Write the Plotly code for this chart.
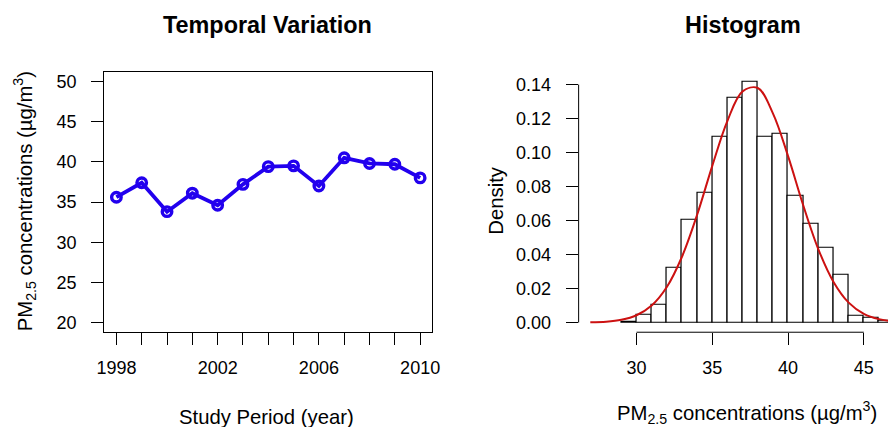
import plotly.graph_objects as go

# ---------------- data ----------------
years = [1998, 1999, 2000, 2001, 2002, 2003, 2004, 2005, 2006, 2007, 2008, 2009, 2010]
pm25_annual = [35.6, 37.4, 33.8, 36.1, 34.6, 37.2, 39.4, 39.5, 37.0, 40.5, 39.8, 39.7, 38.0]
year_tick_labels = ["1998", "", "", "", "2002", "", "", "", "2006", "", "", "", "2010"]
left_y_ticks = [20, 25, 30, 35, 40, 45, 50]

hist_bin_left = [29, 30, 31, 32, 33, 34, 35, 36, 37, 38, 39, 40, 41, 42, 43, 44, 45, 46]
hist_density = [0.0005, 0.0045, 0.0104, 0.0323, 0.0606, 0.0761, 0.1091, 0.1324, 0.1418,
                0.1091, 0.1113, 0.0745, 0.0583, 0.0440, 0.0280, 0.0039, 0.0027, 0.0008]
hist_x_ticks = [30, 35, 40, 45]
hist_y_ticks = [0.00, 0.02, 0.04, 0.06, 0.08, 0.10, 0.12, 0.14]

curve_x = [26.95, 28, 29, 30, 31, 32, 33, 34, 35, 36, 37, 38, 39, 40, 41, 42, 43, 44, 45, 46, 47]
curve_y = [0.0002, 0.0005, 0.0016, 0.0043, 0.0100, 0.0209, 0.0387, 0.0634, 0.0922, 0.1187,
           0.1360, 0.1380, 0.1231, 0.0979, 0.0690, 0.0431, 0.0239, 0.0117, 0.0051, 0.0020, 0.0007]

W, H = 896, 427
FONT = "Liberation Sans, Arial, Helvetica, sans-serif"
TICK_FS = 18
LAB_FS = 20.3
TITLE_FS = 23.4

def px(x):
    return x / W

def py(y):
    return 1 - y / H

fig = go.Figure()

fig.add_trace(go.Scatter(
    x=years, y=pm25_annual, mode="lines+markers",
    line=dict(color="#2200ee", width=3.8),
    marker=dict(symbol="circle-open", size=9.5, color="#2200ee", line=dict(width=3.4, color="#2200ee")),
    xaxis="x", yaxis="y", showlegend=False, hoverinfo="x+y",
))

fig.add_trace(go.Bar(
    x=[b + 0.5 for b in hist_bin_left], y=hist_density, width=1,
    marker=dict(color="white", line=dict(color="black", width=1.2)),
    xaxis="x2", yaxis="y2", showlegend=False,
))

fig.add_trace(go.Scatter(
    x=curve_x, y=curve_y, mode="lines", line=dict(color="#cc1111", width=2, shape="spline"),
    xaxis="x2", yaxis="y2", showlegend=False,
))

y_dom = [py(333), py(72)]
common_tick = dict(ticks="outside", ticklen=12, tickwidth=1, tickcolor="black",
                   tickfont=dict(family=FONT, size=TICK_FS, color="black"),
                   showgrid=False, zeroline=False)

fig.update_layout(
    width=W, height=H,
    margin=dict(l=0, r=0, t=0, b=0),
    paper_bgcolor="white", plot_bgcolor="white",
    bargap=0,
    font=dict(family=FONT, color="black"),
    xaxis=dict(domain=[px(98), px(432)], range=[1997.52, 2010.48],
               tickvals=years, ticktext=year_tick_labels,
               showline=True, mirror=True, linecolor="black", linewidth=1,
               ticklabelstandoff=7, anchor="y", **common_tick),
    yaxis=dict(domain=y_dom, range=[18.8, 51.2], tickvals=left_y_ticks,
               showline=True, mirror=True, linecolor="black", linewidth=1,
               ticklabelstandoff=11, anchor="x", **common_tick),
    xaxis2=dict(domain=[px(581), 1.0], range=[26.18, 26.18 + (896 - 581) / 15.43],
                tickvals=hist_x_ticks, showline=False, ticklabelstandoff=7,
                anchor="y2", **common_tick),
    yaxis2=dict(domain=y_dom, range=[-0.0057, 0.1475], tickvals=hist_y_ticks,
                tickformat=".2f", showline=False, ticklabelstandoff=11,
                anchor="x2", **common_tick),
)

# R-style axis lines spanning only the tick range
fig.add_shape(type="line", xref="x2 domain", yref="y2", x0=0, x1=0,
              y0=hist_y_ticks[0], y1=hist_y_ticks[-1], line=dict(color="black", width=1))
fig.add_shape(type="line", xref="x2", yref="y2 domain", x0=hist_x_ticks[0], x1=hist_x_ticks[-1],
              y0=0, y1=0, line=dict(color="black", width=1))

pm_label = "PM<sub>2.5</sub> concentrations (µg/m<sup>3</sup>)"
annotations = [
    dict(text="<b>Temporal Variation</b>", x=px(264), y=py(25), font=dict(size=TITLE_FS)),
    dict(text="<b>Histogram</b>", x=px(748), y=py(25), font=dict(size=TITLE_FS)),
    dict(text="Study Period (year)", x=px(263), y=py(418), font=dict(size=LAB_FS)),
    dict(text=pm_label, x=px(752), y=py(413), font=dict(size=LAB_FS)),
    dict(text=pm_label, x=px(17), y=py(202), font=dict(size=LAB_FS), textangle=-90),
    dict(text="Density", x=px(496), y=py(201), font=dict(size=LAB_FS), textangle=-90),
]
for a in annotations:
    a.update(xref="paper", yref="paper", showarrow=False, xanchor="center", yanchor="middle")
    a["font"].update(family=FONT, color="black")
fig.update_layout(annotations=annotations)

fig.write_html(
    "out.html",
    config={"displayModeBar": False},
    post_script="document.body.style.margin='0';document.body.style.overflow='hidden';",
)
